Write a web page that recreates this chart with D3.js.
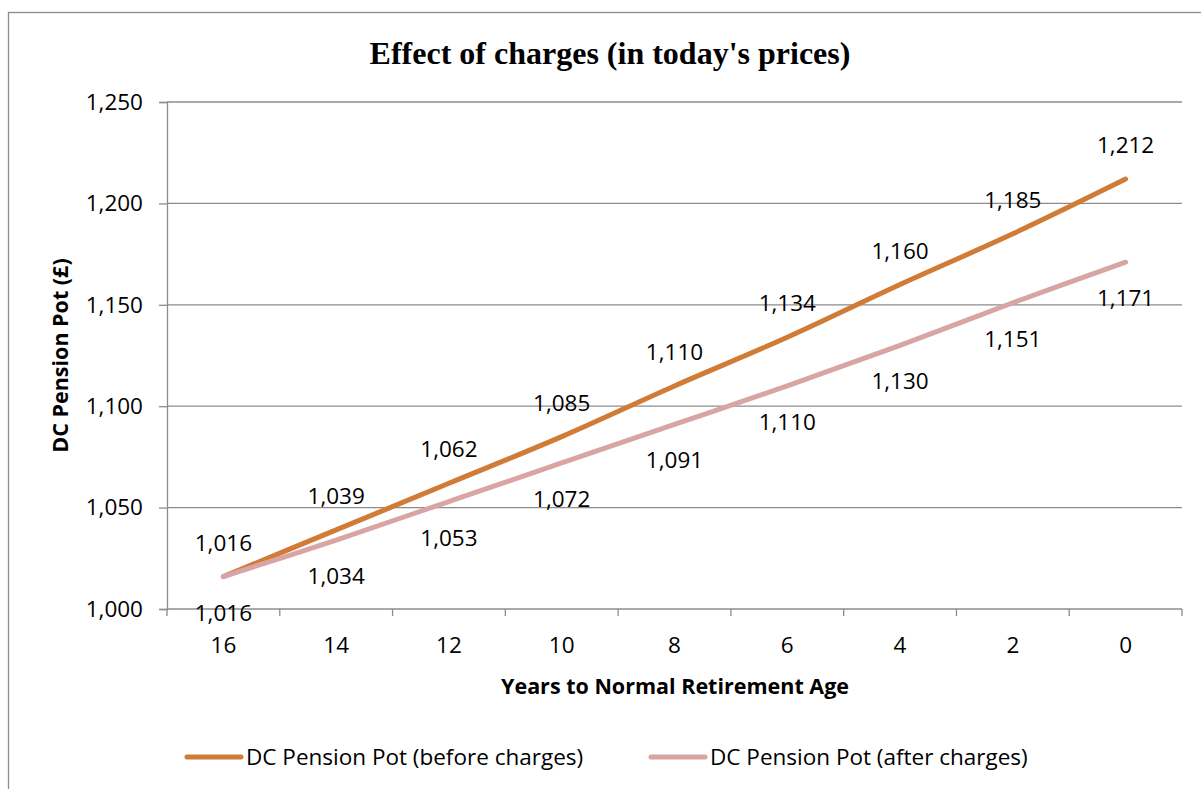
<!DOCTYPE html>
<html lang="en">
<head>
<meta charset="utf-8">
<script src="https://cdn.jsdelivr.net/npm/d3@7"></script>
<style>
    body { margin: 0; background: #fff; }
    svg text { font-family: "Open Sans", "Noto Sans", sans-serif; fill: #000; }
</style>
</head>
<body>
<div id="chart"></div>
<script>
    const years = ['16', '14', '12', '10', '8', '6', '4', '2', '0'];
    const beforeCharges = [1016, 1039, 1062, 1085, 1110, 1134, 1160, 1185, 1212];
    const afterCharges = [1016, 1034, 1053, 1072, 1091, 1110, 1130, 1151, 1171];
    const yTicks = [1000, 1050, 1100, 1150, 1200, 1250];
    const seriesNames = ['DC Pension Pot (before charges)', 'DC Pension Pot (after charges)'];

    const width = 1201, height = 789;
    const margin = {left: 167, right: 19, top: 102, bottom: 180};
    const colors = ['#d07c36', '#d9a5a4'];
    const fs = '22.5px';

    const svg = d3.select('#chart').append('svg')
        .attr('width', width).attr('height', height);

    // outer chart border (right / bottom fall off the picture)
    svg.append('rect')
        .attr('x', 8.5).attr('y', 12.5)
        .attr('width', 1200).attr('height', 800)
        .attr('fill', 'none').attr('stroke', '#8c8c8c').attr('stroke-width', 1.3);

    const x = d3.scaleBand().domain(years)
        .range([margin.left, width - margin.right]);
    const y = d3.scaleLinear().domain([1000, 1250])
        .range([height - margin.bottom, margin.top]);

    // gridlines
    svg.append('g').selectAll('line').data(yTicks.slice(1)).join('line')
        .attr('x1', margin.left).attr('x2', width - margin.right)
        .attr('y1', d => y(d)).attr('y2', d => y(d))
        .attr('stroke', '#8c8c8c').attr('stroke-width', 1.3);

    // y axis
    const yAxis = svg.append('g').attr('transform', `translate(${margin.left},0)`)
        .call(d3.axisLeft(y).tickValues(yTicks).tickFormat(d3.format(',')).tickSize(8).tickPadding(16));
    yAxis.select('.domain').attr('stroke', '#8c8c8c').attr('stroke-width', 1.3);
    yAxis.selectAll('.tick line').attr('stroke', '#8c8c8c').attr('stroke-width', 1.3);
    yAxis.selectAll('text').style('font-size', fs);

    // x axis: ticks sit on category boundaries
    const xAxisG = svg.append('g').attr('transform', `translate(0,${y(1000)})`);
    xAxisG.append('line')
        .attr('x1', margin.left).attr('x2', width - margin.right)
        .attr('stroke', '#8c8c8c').attr('stroke-width', 1.3);
    const bounds = years.map(d => x(d)).concat([x(years[years.length - 1]) + x.bandwidth()]);
    xAxisG.selectAll('.tk').data(bounds).join('line').attr('class', 'tk')
        .attr('x1', d => d).attr('x2', d => d).attr('y1', 0).attr('y2', 7)
        .attr('stroke', '#8c8c8c').attr('stroke-width', 1.3);
    xAxisG.selectAll('.lbl').data(years).join('text').attr('class', 'lbl')
        .attr('x', d => x(d) + x.bandwidth() / 2).attr('y', 44)
        .attr('text-anchor', 'middle').style('font-size', fs).text(d => d);

    // lines
    const cx = (d, i) => x(years[i]) + x.bandwidth() / 2;
    const line = d3.line().x(cx).y(d => y(d)).curve(d3.curveCatmullRom);
    [beforeCharges, afterCharges].forEach((s, k) => {
        svg.append('path').datum(s)
            .attr('d', line)
            .attr('fill', 'none')
            .attr('stroke', colors[k])
            .attr('stroke-width', 5)
            .attr('stroke-linecap', 'round');
    });

    // data labels
    svg.append('g').selectAll('text').data(beforeCharges).join('text')
        .attr('x', cx).attr('y', d => y(d) - 26)
        .attr('text-anchor', 'middle').style('font-size', fs)
        .text(d3.format(','));
    svg.append('g').selectAll('text').data(afterCharges).join('text')
        .attr('x', cx).attr('y', d => y(d) + 44)
        .attr('text-anchor', 'middle').style('font-size', fs)
        .text(d3.format(','));

    // title
    svg.append('text')
        .attr('x', 610).attr('y', 64)
        .attr('text-anchor', 'middle')
        .style('font-family', '"Liberation Serif", "Times New Roman", serif')
        .style('font-weight', 'bold').style('font-size', '32px')
        .text("Effect of charges (in today's prices)");

    // axis titles
    svg.append('text')
        .attr('x', 675).attr('y', 694)
        .attr('text-anchor', 'middle')
        .style('font-weight', 'bold').style('font-size', '21.5px')
        .text('Years to Normal Retirement Age');
    svg.append('text')
        .attr('transform', `translate(68,${(y(1000) + y(1250)) / 2}) rotate(-90)`)
        .attr('text-anchor', 'middle')
        .style('font-weight', 'bold').style('font-size', '21.5px')
        .text('DC Pension Pot (£)');

    // legend
    const legendX = [187, 651];
    const legend = svg.append('g').selectAll('g').data(seriesNames).join('g')
        .attr('transform', (d, i) => `translate(${legendX[i]},757)`);
    legend.append('line')
        .attr('x1', 0).attr('x2', 54)
        .attr('stroke', (d, i) => colors[i]).attr('stroke-width', 5)
        .attr('stroke-linecap', 'round');
    legend.append('text')
        .attr('x', 59).attr('y', 8)
        .style('font-size', fs)
        .text(d => d);
</script>
</body>
</html>
